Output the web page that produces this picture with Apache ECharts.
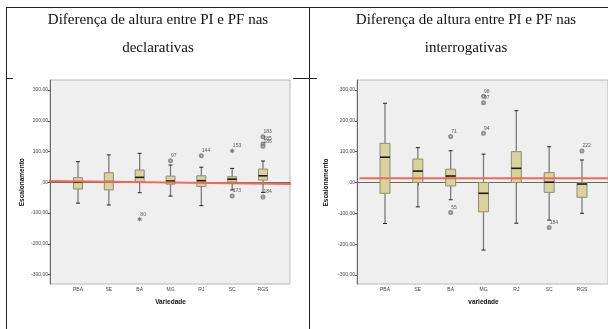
<!DOCTYPE html>
<html>
<head>
<meta charset="utf-8">
<script src="https://cdn.jsdelivr.net/npm/echarts@6/dist/echarts.min.js"></script>
<style>
  html, body { margin: 0; padding: 0; background: #fff; }
  #main { width: 608px; height: 329px; }
</style>
</head>
<body>
<div id="main"></div>
<script>
// categorias (variedades)
const categories = ['PBA', 'SE', 'BA', 'MG', 'RJ', 'SC', 'RGS'];

// [min, Q1, mediana, Q3, max] - declarativas
const declBoxes = [
  [-68, -22, 0, 15, 67],
  [-74, -25, 2, 31, 89],
  [-34, 2, 16, 40, 94],
  [-45, -6, 4, 20, 56],
  [-76, -14, 5, 21, 49],
  [-25, 1, 10, 18, 45],
  [-33, 7, 21, 43, 69]
];
// [categoria, valor, rotulo, tipo]
const declOutliers = [
  [2, -120, '80', 'star'],
  [3, 70, '97', 'circle'],
  [4, 86, '144', 'circle'],
  [5, 102, '153', 'star'],
  [5, -45, '173', 'circle'],
  [6, 148, '183', 'circle'],
  [6, 124, '185', 'circle'],
  [6, 117, '186', 'circle'],
  [6, -48, '184', 'circle']
];

// interrogativas
const interBoxes = [
  [-133, -35, 82, 127, 257],
  [-79, 0, 37, 76, 113],
  [-56, -11, 21, 43, 103],
  [-219, -95, -35, 0, 92],
  [-132, 0, 46, 100, 233],
  [-122, -32, 1, 32, 116],
  [-100, -48, -5, 0, 73]
];
const interOutliers = [
  [2, 149, '71', 'circle'],
  [2, -97, '55', 'circle'],
  [3, 160, '94', 'circle'],
  [3, 259, '97', 'circle'],
  [3, 280, '98', 'circle'],
  [5, -146, '184', 'circle'],
  [6, 102, '222', 'circle']
];

// linha vermelha desenhada por cima (x em fração da área)
const declRefLine = [[-0.02, 4], [1.012, -6]];
const interRefLine = [[0.01, 14], [1.0, 14]];

const chart = echarts.init(document.getElementById('main'));

const starPath = 'path://M-0.15,-1L0.15,-1L0.15,1L-0.15,1Z' +
  'M0.791,0.63L0.941,0.37L-0.791,-0.63L-0.941,-0.37Z' +
  'M-0.941,0.37L-0.791,0.63L0.941,-0.37L0.791,-0.63Z';

const tickFont = { fontSize: 5, color: '#444', fontFamily: 'Liberation Sans' };
const nameFont = { fontSize: 6.5, fontWeight: 'bold', color: '#111', fontFamily: 'Liberation Sans' };

function fmtY(v) {
  if (v === 0) return ',00';
  return v.toFixed(2).replace('.', ',');
}

function boxRenderer(bw) {
  return function (params, api) {
    const x = api.value(0);
    const p = [1, 2, 3, 4, 5].map(i => api.coord([x, api.value(i)]));
    const cx = p[0][0];
    const cw = 4;
    const wStyle = { stroke: '#7c7c7c', lineWidth: 1.3 };
    const cStyle = { stroke: '#222', lineWidth: 1 };
    return {
      type: 'group',
      children: [
        { type: 'line', shape: { x1: cx, y1: p[4][1], x2: cx, y2: p[3][1] }, style: wStyle },
        { type: 'line', shape: { x1: cx, y1: p[1][1], x2: cx, y2: p[0][1] }, style: wStyle },
        { type: 'line', shape: { x1: cx - cw / 2, y1: p[4][1], x2: cx + cw / 2, y2: p[4][1] }, style: cStyle },
        { type: 'line', shape: { x1: cx - cw / 2, y1: p[0][1], x2: cx + cw / 2, y2: p[0][1] }, style: cStyle },
        { type: 'rect', shape: { x: cx - bw / 2, y: p[3][1], width: bw, height: p[1][1] - p[3][1] },
          style: { fill: '#d8d39c', stroke: '#8e8c76', lineWidth: 1 } },
        { type: 'line', shape: { x1: cx - bw / 2, y1: p[2][1], x2: cx + bw / 2, y2: p[2][1] },
          style: { stroke: '#1a1a1a', lineWidth: 1.6 } }
      ]
    };
  };
}

function outlierSeries(list, kind, xi, yi) {
  return {
    type: 'scatter',
    xAxisIndex: xi,
    yAxisIndex: yi,
    symbol: kind === 'star' ? starPath : 'emptyCircle',
    symbolSize: kind === 'star' ? 4 : 3,
    itemStyle: { color: '#777', borderColor: '#777', borderWidth: 0.6 },
    data: list.filter(o => o[3] === kind).map(o => ({ name: o[2], value: [o[0], o[1]] })),
    label: {
      show: true,
      formatter: p => p.name,
      position: [3, -5],
      fontSize: 5,
      color: '#333',
      fontFamily: 'Liberation Sans'
    },
    labelLayout: { moveOverlap: 'shiftY' },
    silent: true,
    z: 5
  };
}

function panelAxes(gA, gB, xName, yNameGap, yOffset, xOffset, yMin, yMax) {
  const xAxes = [
    { gridIndex: gA, type: 'value', min: 0, max: 1,
      axisLine: { show: true, lineStyle: { color: '#6a6a6a', width: 1 } },
      axisTick: { show: false }, axisLabel: { show: false }, splitLine: { show: false } },
    { gridIndex: gB, type: 'category', data: categories, offset: xOffset,
      axisLine: { show: false },
      axisTick: { show: true, alignWithLabel: true, length: 3, lineStyle: { color: '#555' } },
      axisLabel: Object.assign({ margin: 3 }, tickFont),
      name: xName, nameLocation: 'middle', nameGap: 15, nameTextStyle: nameFont }
  ];
  const yAxes = [
    { gridIndex: gA, type: 'value', min: yMin, max: yMax,
      axisLine: { show: true, lineStyle: { color: '#6a6a6a', width: 1 } },
      axisTick: { show: false }, axisLabel: { show: false }, splitLine: { show: false } },
    { gridIndex: gB, type: 'value', min: -300, max: 300, interval: 100, offset: yOffset,
      axisLine: { show: false },
      axisTick: { show: true, length: 2, lineStyle: { color: '#555' } },
      axisLabel: Object.assign({ margin: 2, formatter: fmtY }, tickFont),
      splitLine: { show: false },
      name: 'Escalonamento', nameLocation: 'middle', nameRotate: 90, nameGap: yNameGap,
      nameTextStyle: nameFont }
  ];
  return { xAxes, yAxes };
}

const left = panelAxes(0, 1, 'Variedade', 24, 12.6, 9.5, -331, 332.5);
const right = panelAxes(2, 3, 'variedade', 27, 11.6, 9, -329, 332.5);

const titleStyle = { fontFamily: 'Liberation Serif', fontSize: 15, fontWeight: 'normal', color: '#111', lineHeight: 28 };

const option = {
  animation: false,
  backgroundColor: '#fff',
  title: [
    { text: 'Diferença de altura entre PI e PF nas\ndeclarativas', left: 158, top: 6, padding: 0,
      textAlign: 'center', textStyle: titleStyle },
    { text: 'Diferença de altura entre PI e PF nas\ninterrogativas', left: 466, top: 6, padding: 0,
      textAlign: 'center', textStyle: titleStyle }
  ],
  grid: [
    { left: 50, top: 80, width: 240, height: 204, show: true, backgroundColor: '#efefef', borderColor: '#b8b8b8', borderWidth: 1 },
    { left: 62.6, top: 90, width: 215.8, height: 184.5 },
    { left: 357, top: 80, width: 253, height: 204, show: true, backgroundColor: '#efefef', borderColor: '#b8b8b8', borderWidth: 1 },
    { left: 368.6, top: 90, width: 229.8, height: 185 }
  ],
  xAxis: left.xAxes.concat(right.xAxes),
  yAxis: left.yAxes.concat(right.yAxes),
  graphic: [
    { type: 'line', shape: { x1: 6, y1: 7.5, x2: 608, y2: 7.5 }, style: { stroke: '#222', lineWidth: 1 } },
    { type: 'line', shape: { x1: 6.5, y1: 7, x2: 6.5, y2: 329 }, style: { stroke: '#222', lineWidth: 1 } },
    { type: 'line', shape: { x1: 309.5, y1: 7, x2: 309.5, y2: 329 }, style: { stroke: '#222', lineWidth: 1 } },
    { type: 'line', shape: { x1: 6, y1: 78.5, x2: 13, y2: 78.5 }, style: { stroke: '#222', lineWidth: 1 } },
    { type: 'line', shape: { x1: 293, y1: 78.5, x2: 317, y2: 78.5 }, style: { stroke: '#222', lineWidth: 1 } }
  ],
  series: [
    { type: 'custom', xAxisIndex: 1, yAxisIndex: 1, renderItem: boxRenderer(9),
      encode: { x: 0, y: [1, 2, 3, 4, 5] }, data: declBoxes.map((b, i) => [i].concat(b)), silent: true },
    outlierSeries(declOutliers, 'circle', 1, 1),
    outlierSeries(declOutliers, 'star', 1, 1),
    { type: 'line', xAxisIndex: 0, yAxisIndex: 0, data: declRefLine, symbol: 'none', clip: false,
      lineStyle: { color: '#f26a56', width: 2 }, silent: true, z: 10 },

    { type: 'custom', xAxisIndex: 3, yAxisIndex: 3, renderItem: boxRenderer(10),
      encode: { x: 0, y: [1, 2, 3, 4, 5] }, data: interBoxes.map((b, i) => [i].concat(b)), silent: true },
    outlierSeries(interOutliers, 'circle', 3, 3),
    { type: 'line', xAxisIndex: 2, yAxisIndex: 2, data: interRefLine, symbol: 'none', clip: false,
      lineStyle: { color: '#f26a56', width: 2 }, silent: true, z: 10 }
  ]
};

chart.setOption(option);
</script>
</body>
</html>
